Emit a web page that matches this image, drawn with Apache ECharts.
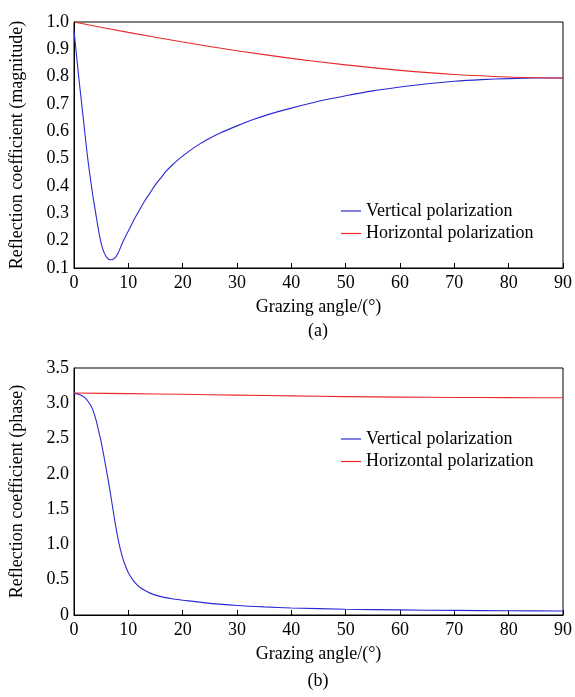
<!DOCTYPE html>
<html><head><meta charset="utf-8">
<script src="https://cdn.jsdelivr.net/npm/echarts@6/dist/echarts.min.js"></script>
<style>html,body{margin:0;padding:0;background:#fff}#c{width:575px;height:697px}</style>
</head><body><div id="c"></div>
<script>
// Panel (a): magnitude
var magVertAngles = [0, 0.5, 1, 1.5, 2, 2.5, 3, 3.5, 4, 4.5, 5, 5.5, 6, 6.5, 7, 7.5, 8, 8.5, 9, 10, 11, 12, 13, 14, 15, 16, 17, 18, 19.4, 21, 23.3, 25, 27, 30, 33, 36, 40, 45, 50, 55, 60, 65, 70, 75, 80, 85, 90];
var magVertValues = [0.97, 0.87, 0.775, 0.685, 0.595, 0.505, 0.43, 0.36, 0.30, 0.24, 0.19, 0.158, 0.14, 0.131, 0.13, 0.136, 0.15, 0.172, 0.196, 0.235, 0.275, 0.31, 0.345, 0.375, 0.405, 0.43, 0.455, 0.475, 0.50, 0.525, 0.556, 0.575, 0.595, 0.62, 0.643, 0.663, 0.685, 0.71, 0.73, 0.748, 0.762, 0.774, 0.783, 0.789, 0.793, 0.795, 0.795];
var magHorAngles = [0, 10, 20, 30, 40, 50, 60, 70, 80, 90];
var magHorValues = [1.0, 0.962, 0.927, 0.895, 0.867, 0.843, 0.823, 0.808, 0.799, 0.795];
// Panel (b): phase
var phVertAngles = [0, 1, 2, 3, 3.5, 4, 4.5, 5, 5.5, 6, 6.5, 7, 7.5, 8, 8.5, 9, 9.5, 10, 11, 12, 13, 14, 16, 18, 20, 25, 30, 35, 40, 50, 60, 70, 80, 90];
var phVertValues = [3.14, 3.125, 3.08, 2.98, 2.90, 2.78, 2.62, 2.45, 2.25, 2.04, 1.82, 1.58, 1.34, 1.12, 0.94, 0.80, 0.69, 0.60, 0.48, 0.40, 0.35, 0.31, 0.26, 0.23, 0.21, 0.165, 0.135, 0.115, 0.10, 0.082, 0.072, 0.065, 0.06, 0.056];
var phHorAngles = [0, 10, 20, 30, 40, 50, 60, 70, 80, 90];
var phHorValues = [3.145, 3.137, 3.127, 3.116, 3.105, 3.095, 3.088, 3.083, 3.08, 3.078];

var seriesNames = ['Vertical polarization', 'Horizontal polarization'];
var xTitle = 'Grazing angle/(\u00b0)';
var yTitleA = 'Reflection coefficient (magnitude)';
var yTitleB = 'Reflection coefficient (phase)';
var panelLabels = ['(a)', '(b)'];

function zip(a, b) { return a.map(function (x, i) { return [x, b[i]]; }); }

var FONT = "'Liberation Serif', 'Times New Roman', serif";
var BLUE = '#2a2ad2', RED = '#e82a2a';
var txt = { fontFamily: FONT, fontSize: 18, color: '#000' };

function xAxis(gi) {
  return {
    type: 'value', gridIndex: gi, min: 0, max: 90, interval: 10,
    name: xTitle, nameLocation: 'middle', nameGap: 30, nameTextStyle: txt,
    axisLine: { show: true, lineStyle: { color: '#000', width: 1 } },
    axisTick: { show: true, inside: true, length: 5, lineStyle: { color: '#000' } },
    axisLabel: Object.assign({ margin: 6 }, txt),
    splitLine: { show: false }
  };
}
function yAxis(gi, min, max, interval, name, fmt) {
  return {
    type: 'value', gridIndex: gi, min: min, max: max, interval: interval,
    name: name, nameLocation: 'middle', nameGap: 48, nameTextStyle: txt,
    axisLine: { show: true, lineStyle: { color: '#000', width: 1 } },
    axisTick: { show: false },
    axisLabel: Object.assign({ margin: 5, formatter: fmt }, txt),
    splitLine: { show: false }
  };
}
function line(name, data, color, xi) {
  return {
    type: 'line', name: name, xAxisIndex: xi, yAxisIndex: xi,
    data: data, showSymbol: false, symbol: 'none', smooth: 0.3,
    lineStyle: { color: color, width: 1.1 }, itemStyle: { color: color }, clip: true
  };
}
function legend(top) {
  return { left: 336, top: top, orient: 'vertical', icon: 'rect', itemWidth: 20, itemHeight: 1.2, itemGap: 4.5,
    textStyle: txt, data: seriesNames, selectedMode: false };
}

var chart = echarts.init(document.getElementById('c'), null, { renderer: 'canvas' });
chart.setOption({
  animation: false,
  backgroundColor: '#fff',
  grid: [
    { left: 73, right: 12, top: 22, height: 246, show: true, borderColor: '#000', borderWidth: 1 },
    { left: 73, right: 12, top: 368, height: 247, show: true, borderColor: '#000', borderWidth: 1 }
  ],
  xAxis: [xAxis(0), xAxis(1)],
  yAxis: [
    yAxis(0, 0.1, 1.0, 0.1, yTitleA, function (v) { return v.toFixed(1); }),
    yAxis(1, 0, 3.5, 0.5, yTitleB, function (v) { return v === 0 ? '0' : v.toFixed(1); })
  ],
  legend: [legend(197), legend(425)],
  graphic: [
    { type: 'text', x: 318, y: 331, style: { text: panelLabels[0], font: '18px ' + FONT, fill: '#000', align: 'center', verticalAlign: 'middle' } },
    { type: 'text', x: 318, y: 681, style: { text: panelLabels[1], font: '18px ' + FONT, fill: '#000', align: 'center', verticalAlign: 'middle' } }
  ],
  series: [
    line(seriesNames[0], zip(magVertAngles, magVertValues), BLUE, 0),
    line(seriesNames[1], zip(magHorAngles, magHorValues), RED, 0),
    line(seriesNames[0], zip(phVertAngles, phVertValues), BLUE, 1),
    line(seriesNames[1], zip(phHorAngles, phHorValues), RED, 1)
  ]
});
</script></body></html>
